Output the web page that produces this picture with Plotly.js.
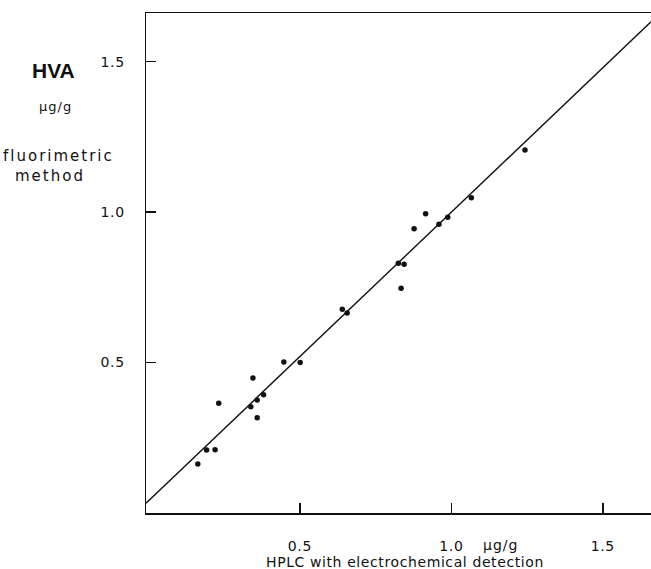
<!DOCTYPE html>
<html>
<head>
<meta charset="utf-8">
<script src="https://cdn.plot.ly/plotly-3.0.1.min.js"></script>
<style>
  html, body { margin: 0; padding: 0; background: #fff; }
  #chart { width: 651px; height: 569px; }
</style>
</head>
<body>
<div id="chart"></div>
<script>
// HVA per sample: HPLC (x) vs fluorimetric method (y), both in µg/g
const hplc  = [0.163, 0.192, 0.220, 0.232, 0.338, 0.345, 0.359, 0.359, 0.380, 0.447, 0.501,
               0.640, 0.656, 0.825, 0.844, 0.834, 0.877, 0.915, 0.959, 0.988, 1.066, 1.243];
const fluor = [0.163, 0.209, 0.210, 0.365, 0.353, 0.449, 0.376, 0.317, 0.393, 0.502, 0.500,
               0.677, 0.665, 0.830, 0.827, 0.747, 0.945, 0.995, 0.960, 0.983, 1.048, 1.207];

// regression line y = intercept + slope * x
const intercept = 0.04;
const slope = 0.96;

const tickValues = [0.5, 1.0, 1.5];
const tickLabels = ['0.5', '1.0', '1.5'];

const xRange = [-0.008, 1.659];
const yRange = [0, 1.662];

const ink = '#111';
const font = 'DejaVu Sans, sans-serif';
const spaced = (s, px) => '<span style="letter-spacing:' + px + 'px">' + s + '</span>';

const lineX = xRange.slice();
const lineY = lineX.map(x => intercept + slope * x);

const traces = [
  {
    x: lineX, y: lineY, type: 'scatter', mode: 'lines',
    line: { color: ink, width: 1.4 }, hoverinfo: 'skip'
  },
  {
    x: hplc, y: fluor, type: 'scatter', mode: 'markers',
    marker: { color: ink, size: 5.5 }
  }
];

const axisCommon = {
  showgrid: false, zeroline: false, showline: true, linecolor: ink, linewidth: 1.5,
  ticks: 'inside', ticklen: 10, tickwidth: 1.5, tickcolor: ink,
  tickvals: tickValues, ticktext: tickLabels.map(t => spaced(t, 0.6)),
  tickfont: { family: font, size: 14, color: ink }
};

// free-standing labels, positioned in paper units
const label = (text, x, y, size, family) => ({
  text: text, xref: 'paper', yref: 'paper', x: x, y: y,
  xanchor: 'center', yanchor: 'middle', showarrow: false,
  font: { family: family || font, size: size, color: ink }
});

const layout = {
  width: 651, height: 569,
  margin: { l: 146, r: 0, t: 13, b: 56 },
  paper_bgcolor: '#fff', plot_bgcolor: '#fff',
  showlegend: false,
  xaxis: Object.assign({}, axisCommon, { range: xRange, mirror: true, ticklabelstandoff: 20 }),
  yaxis: Object.assign({}, axisCommon, { range: yRange, mirror: false, ticklabelstandoff: 17 }),
  annotations: [
    label('<b>HVA</b>', -0.183, 0.885, 21, 'Liberation Sans, Arial, sans-serif'),
    label(spaced('µg/g', 1), -0.180, 0.814, 13),
    label(spaced('fluorimetric', 2), -0.174, 0.714, 15),
    label(spaced('method', 2), -0.190, 0.674, 15),
    label(spaced('µg/g', 1), 0.701, -0.064, 14),
    label(spaced('HPLC with electrochemical detection', 0.6), 0.513, -0.098, 14)
  ]
};

Plotly.newPlot('chart', traces, layout, { displayModeBar: false, staticPlot: true });
</script>
</body>
</html>
